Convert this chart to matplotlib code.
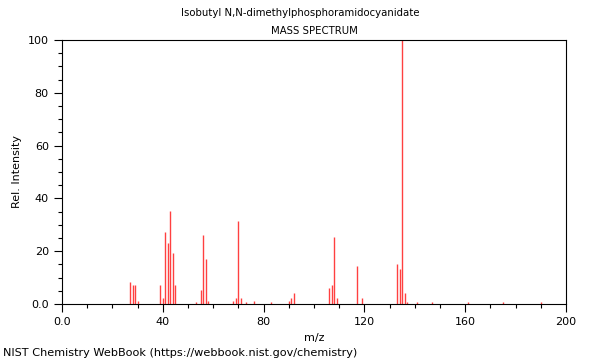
import matplotlib
matplotlib.use('Agg')
import matplotlib.pyplot as plt
from matplotlib.ticker import MultipleLocator, FuncFormatter

title = 'Isobutyl N,N-dimethylphosphoramidocyanidate'
mz = [27, 28, 29, 30, 39, 40, 41, 42, 43, 44, 45,
      53, 55, 56, 57, 58, 68, 69, 70, 71, 73, 76, 83,
      90, 91, 92, 106, 107, 108, 109, 117, 119,
      133, 134, 135, 136, 137, 141, 147, 161, 175, 190]
intensity = [8.2, 7.2, 7.2, 1.1, 7.2, 2.1, 27.1, 23.2, 35.2, 19.2, 7.2,
             0.7, 5.2, 26.1, 17.2, 1.1, 1.1, 2.1, 31.3, 2.1, 0.7, 1.1, 0.7,
             1.1, 2.1, 4.0, 6.2, 7.2, 25.2, 2.1, 14.3, 2.1,
             15.2, 13.1, 100, 4.0, 0.6, 0.6, 0.9, 0.6, 0.9, 0.9]

plt.rcParams['font.size'] = 8
fig = plt.figure(figsize=(6, 3.6), dpi=100)
ax = fig.add_axes([0.1033, 0.1556, 0.84, 0.7333])

ax.vlines(mz, 0, intensity, color='red', linewidth=1, alpha=0.75)

ax.set_xlim(0, 200)
ax.set_ylim(0, 100)
ax.xaxis.set_major_locator(MultipleLocator(40))
ax.xaxis.set_minor_locator(MultipleLocator(10))
ax.yaxis.set_major_locator(MultipleLocator(20))
ax.yaxis.set_minor_locator(MultipleLocator(5))
fmt = FuncFormatter(lambda v, p: '0.0' if v == 0 else '%d' % v)
ax.xaxis.set_major_formatter(fmt)
ax.yaxis.set_major_formatter(fmt)
ax.tick_params(which='major', length=6, width=0.8, labelsize=8)
ax.tick_params(which='minor', length=3, width=0.8)

ax.set_xlabel('m/z', fontsize=8)
ax.set_ylabel('Rel. Intensity', fontsize=8)
fig.text(0.5, 0.955, title, ha='center', fontsize=7.3)
ax.set_title('MASS SPECTRUM', fontsize=7.3, pad=4)
fig.text(0.005, 0.01, 'NIST Chemistry WebBook (https://webbook.nist.gov/chemistry)', fontsize=8.1)

fig.savefig('out.png', dpi=100)
